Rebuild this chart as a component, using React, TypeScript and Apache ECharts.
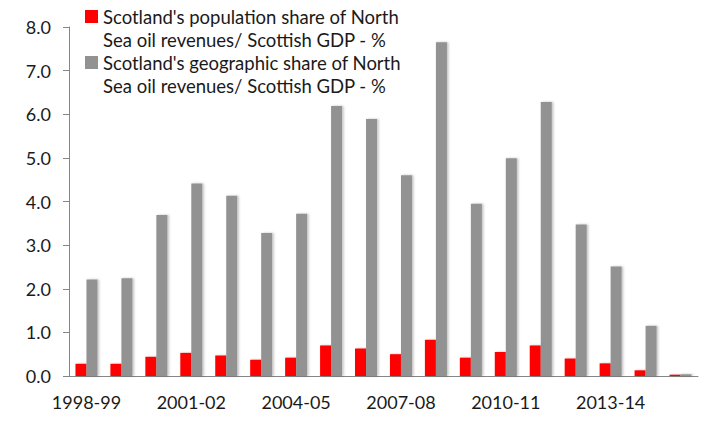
import React, { useEffect, useRef } from "react";
import * as echarts from "echarts";

const categories = [
  "1998-99", "1999-00", "2000-01", "2001-02", "2002-03", "2003-04",
  "2004-05", "2005-06", "2006-07", "2007-08", "2008-09", "2009-10",
  "2010-11", "2011-12", "2012-13", "2013-14", "2014-15", "2015-16",
];

const populationShare = [
  0.28, 0.28, 0.44, 0.53, 0.47, 0.37, 0.42, 0.70, 0.63,
  0.50, 0.83, 0.42, 0.55, 0.70, 0.40, 0.29, 0.13, 0.03,
];

const geographicShare = [
  2.21, 2.24, 3.69, 4.41, 4.13, 3.28, 3.72, 6.19, 5.89,
  4.60, 7.65, 3.95, 4.99, 6.28, 3.47, 2.51, 1.15, 0.04,
];

const seriesNames = [
  "Scotland's population share of North\nSea oil revenues/ Scottish GDP - %",
  "Scotland's geographic share of North\nSea oil revenues/ Scottish GDP - %",
];

const FONT = "Lato";
const AXIS = "#868686";
// square aligned with the first of two text lines (invisible points stretch the box)
const LEGEND_ICON = "path://M0,0L0.01,0M0,5H13V18H0ZM0,46L0.01,46";

export default function App() {
  const ref = useRef<HTMLDivElement>(null);
  useEffect(() => {
    document.body.style.margin = "0";
    const chart = echarts.init(ref.current!, undefined, { renderer: "svg" });
    chart.setOption({
      animation: false,
      textStyle: { fontFamily: FONT },
      legend: {
        data: seriesNames,
        orient: "vertical",
        left: 85,
        top: 5,
        padding: 0,
        itemGap: 0,
        itemWidth: 13,
        itemHeight: 46,
        icon: LEGEND_ICON,
        selectedMode: false,
        textStyle: {
          fontFamily: FONT,
          fontSize: 18.5,
          lineHeight: 23,
          color: "#1a1a1a",
        },
      },
      grid: { left: 69, right: 27, top: 27, bottom: 71, containLabel: false },
      xAxis: {
        type: "category",
        data: categories,
        axisLine: { lineStyle: { color: AXIS, width: 1 } },
        axisTick: { interval: 2, length: 6, lineStyle: { color: AXIS } },
        axisLabel: {
          interval: 2,
          fontSize: 18,
          fontFamily: FONT,
          color: "#1a1a1a",
          margin: 17,
        },
      },
      yAxis: {
        type: "value",
        min: 0,
        max: 8,
        interval: 1,
        splitLine: { show: false },
        axisLine: { show: true, lineStyle: { color: AXIS, width: 1 } },
        axisTick: { show: true, length: 6, lineStyle: { color: AXIS } },
        axisLabel: {
          fontSize: 18,
          fontFamily: FONT,
          color: "#1a1a1a",
          margin: 18,
          formatter: (v: number) => v.toFixed(1),
        },
      },
      series: [
        {
          name: seriesNames[0],
          type: "bar",
          data: populationShare,
          barGap: "0%",
          barCategoryGap: "37%",
          itemStyle: {
            color: "#ff0000",
            shadowColor: "rgba(0,0,0,0.25)",
            shadowBlur: 2,
            shadowOffsetX: 1.5,
          },
        },
        {
          name: seriesNames[1],
          type: "bar",
          data: geographicShare,
          barGap: "0%",
          barCategoryGap: "37%",
          itemStyle: {
            color: "#929292",
            shadowColor: "rgba(0,0,0,0.25)",
            shadowBlur: 2,
            shadowOffsetX: 1.5,
          },
        },
      ],
    });
    return () => chart.dispose();
  }, []);
  return <div ref={ref} style={{ width: 725, height: 447 }} />;
}
